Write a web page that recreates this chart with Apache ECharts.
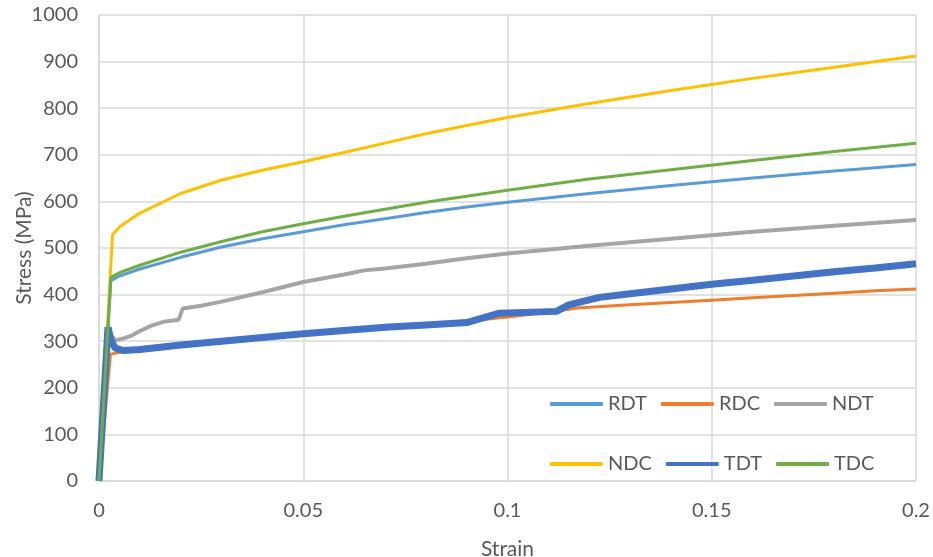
<!DOCTYPE html>
<html>
<head>
<meta charset="utf-8">
<script src="https://cdn.jsdelivr.net/npm/echarts@6/dist/echarts.min.js"></script>
<style>
  html, body { margin: 0; padding: 0; background: #fff; }
  #chart { width: 933px; height: 557px; }
</style>
</head>
<body>
<div id="chart"></div>
<script>
// strain / stress pairs
const rdt = [[0,0],[0.0029,430],[0.005,440],[0.01,455],[0.02,480],[0.03,502],[0.04,520],[0.05,535],[0.06,550],[0.07,563],[0.08,576],[0.09,588],[0.1,598],[0.12,617],[0.14,634],[0.16,650],[0.18,665],[0.2,679]];
const rdc = [[0,0],[0.0028,272],[0.005,276],[0.01,282],[0.02,290],[0.03,298],[0.04,306],[0.05,314],[0.06,321],[0.07,328],[0.08,336],[0.09,343],[0.1,352],[0.11,362],[0.117,371],[0.13,378],[0.14,383],[0.15,388],[0.16,393],[0.17,398],[0.18,403],[0.19,408],[0.2,412]];
const ndt = [[0,0],[0.0022,322],[0.003,312],[0.004,302],[0.006,306],[0.008,312],[0.01,322],[0.013,334],[0.016,342],[0.0195,346],[0.0205,370],[0.025,376],[0.03,385],[0.04,405],[0.05,427],[0.06,443],[0.065,452],[0.07,456],[0.08,466],[0.09,478],[0.1,488],[0.12,505],[0.14,520],[0.16,535],[0.18,548],[0.2,560]];
const ndc = [[0,0],[0.0033,528],[0.005,545],[0.01,575],[0.02,617],[0.03,646],[0.04,667],[0.05,685],[0.06,705],[0.07,725],[0.08,745],[0.09,763],[0.1,780],[0.12,810],[0.14,838],[0.16,864],[0.18,888],[0.2,912]];
const tdt = [[0,0],[0.0022,330],[0.003,300],[0.004,285],[0.006,280],[0.01,282],[0.02,292],[0.03,300],[0.04,308],[0.05,316],[0.06,323],[0.07,330],[0.08,335],[0.09,340],[0.098,360],[0.112,364],[0.115,378],[0.1225,394],[0.13,402],[0.14,412],[0.15,422],[0.16,431],[0.17,440],[0.18,449],[0.19,457],[0.2,466]];
const tdc = [[0,0],[0.0029,437],[0.005,447],[0.01,463],[0.02,491],[0.03,514],[0.04,535],[0.05,552],[0.06,568],[0.07,583],[0.08,598],[0.09,611],[0.1,624],[0.12,648],[0.14,668],[0.16,688],[0.18,707],[0.2,725]];

const seriesNames = ['RDT', 'RDC', 'NDT', 'NDC', 'TDT', 'TDC'];
const seriesData = [rdt, rdc, ndt, ndc, tdt, tdc];
const colors = ['#5B9BD5', '#ED7D31', '#A5A5A5', '#FFC000', '#4472C4', '#70AD47'];
const widths = [3, 3, 4, 3, 7, 3];

const font = 'Lato';
const textColor = '#595959';

var chart = echarts.init(document.getElementById('chart'), null, { renderer: 'canvas' });

const legendBase = {
    orient: 'horizontal',
    left: 550,
    padding: 0,
    icon: 'roundRect',
    itemWidth: 53,
    itemHeight: 4,
    itemGap: 14,
    textStyle: { color: textColor, fontFamily: font, fontSize: 20, width: 50 }
};

const option = {
    animation: false,
    color: colors,
    textStyle: { fontFamily: font },
    grid: { left: 99, right: 17, top: 15, bottom: 76, outerBoundsMode: 'none', containLabel: false },
    legend: [
        Object.assign({}, legendBase, { top: 394, data: seriesNames.slice(0, 3) }),
        Object.assign({}, legendBase, { top: 454, data: seriesNames.slice(3) })
    ],
    xAxis: {
        type: 'value',
        min: 0,
        max: 0.2,
        interval: 0.05,
        name: 'Strain',
        nameLocation: 'middle',
        nameGap: 58,
        nameMoveOverlap: false,
        nameTextStyle: { color: textColor, fontFamily: font, fontSize: 21 },
        axisLine: { show: true, lineStyle: { color: '#D9D9D9', width: 1.5 } },
        axisTick: { show: false },
        axisLabel: { color: textColor, fontFamily: font, fontSize: 20, margin: 20 },
        splitLine: { show: true, lineStyle: { color: '#D9D9D9', width: 1.5 } }
    },
    yAxis: {
        type: 'value',
        min: 0,
        max: 1000,
        interval: 100,
        name: 'Stress (MPa)',
        nameLocation: 'middle',
        nameGap: 64,
        nameMoveOverlap: false,
        nameTextStyle: { color: textColor, fontFamily: font, fontSize: 21 },
        axisLine: { show: true, lineStyle: { color: '#D9D9D9', width: 1.5 } },
        axisTick: { show: false },
        axisLabel: {
            color: textColor, fontFamily: font, fontSize: 20, margin: 21,
            formatter: function (v) { return String(v); }
        },
        splitLine: { show: true, lineStyle: { color: '#D9D9D9', width: 1.5 } }
    },
    series: seriesNames.map(function (name, i) {
        return {
            name: name,
            type: 'line',
            symbol: 'none',
            data: seriesData[i],
            lineStyle: { color: colors[i], width: widths[i] },
            itemStyle: { color: colors[i] }
        };
    })
};

chart.setOption(option);
window.addEventListener('resize', chart.resize);
</script>
</body>
</html>
